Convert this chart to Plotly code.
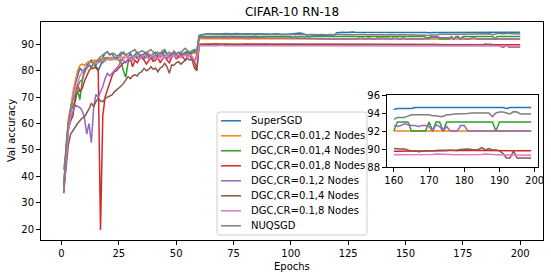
import plotly.graph_objects as go

# ---------------- data ----------------
epochs = list(range(1, 201))

names = ["SuperSGD", "DGC,CR=0.01,2 Nodes", "DGC,CR=0.01,4 Nodes", "DGC,CR=0.01,8 Nodes",
         "DGC,CR=0.1,2 Nodes", "DGC,CR=0.1,4 Nodes", "DGC,CR=0.1,8 Nodes", "NUQSGD"]
colors = ["#1f77b4", "#ff7f0e", "#2ca02c", "#d62728", "#9467bd", "#8c564b", "#e377c2", "#7f7f7f"]

super_sgd = [
    36, 52, 61, 66, 71, 75, 78, 81, 80, 79, 82, 83, 84, 83, 81, 80, 82, 85, 86.6, 87.2,
    86, 86.5, 85, 84.5, 85.5, 86, 87, 86, 85, 86.5, 85, 86, 87, 86, 85.5, 86.5, 87, 86, 85, 86.5,
    87, 86, 85.5, 86, 87.5, 86, 85, 86.5, 87, 86, 86.5, 87, 85.5, 86, 87, 86.5, 87.5, 88, 87, 93.4,
    93.6, 93.8, 93.9, 94.0, 93.9, 94.0, 94.1, 94.0, 93.9, 94.0, 94.0, 94.1, 94.0, 93.9, 94.0, 94.1, 94.0, 94.0, 93.9, 94.0,
    94.0, 94.1, 94.0, 93.9, 93.9, 94.0, 94.0, 93.9, 94.0, 93.9, 93.8, 93.9, 93.9, 94.0, 93.9, 93.8, 93.9, 93.8, 93.8, 93.9,
    94.0, 94.2, 94.4, 94.3, 94.1, 93.7, 93.5, 93.7, 93.5, 93.6, 93.4, 93.5, 93.4, 93.5, 93.4, 93.5, 93.5, 93.4, 93.5, 94.4,
    94.5, 94.6, 94.6, 94.5, 94.6, 94.6, 94.7, 94.6, 94.6, 94.6, 94.5, 94.6, 94.6, 94.6, 94.7, 94.6, 94.6, 94.6, 94.5, 94.6,
    94.6, 94.6, 94.6, 94.7, 94.6, 94.6, 94.6, 94.6, 94.5, 94.6, 94.6, 94.6, 94.6, 94.7, 94.6, 94.6, 94.6, 94.5, 94.5, 94.4,
    94.5, 94.5, 94.5, 94.5, 94.5, 94.6, 94.6, 94.6, 94.6, 94.6, 94.6, 94.6, 94.6, 94.6, 94.6, 94.6, 94.6, 94.6, 94.6, 94.6,
    94.6, 94.6, 94.6, 94.6, 94.6, 94.6, 94.6, 94.6, 94.6, 94.6, 94.6, 94.5, 94.6, 94.6, 94.6, 94.6, 94.6, 94.6, 94.6, 94.6,
]

dgc_001_2 = [
    35, 48, 62, 66, 72, 76, 80, 82, 82.5, 82, 83, 83.5, 83, 84, 84, 83.5, 84.5, 84, 85, 84.5,
    85, 84, 84.5, 85, 85.5, 84, 85, 86, 85, 84.5, 85.5, 86, 85, 84.5, 86, 85, 85.5, 86.5, 85, 84.5,
    85.5, 86, 85, 86.5, 85, 84.5, 86, 85.5, 86, 85, 86.5, 85.5, 86, 87, 86, 85.5, 86.5, 87, 86, 92.3,
    92.1, 92.0, 92.1, 92.2, 92.1, 92.0, 92.1, 92.2, 92.1, 92.0, 92.1, 92.1, 92.0, 92.1, 92.2, 92.1, 92.0, 92.1, 92.1, 92.0,
    92.1, 92.0, 92.1, 92.1, 92.0, 92.1, 92.2, 92.1, 92.0, 92.1, 92.0, 92.1, 92.1, 92.0, 92.1, 92.0, 92.1, 92.0, 92.0, 92.1,
    92.0, 92.1, 92.0, 92.0, 92.1, 92.0, 92.0, 92.1, 92.0, 92.0, 92.0, 92.1, 92.0, 92.0, 92.0, 92.0, 92.1, 92.0, 92.0, 92.0,
    92.0, 92.0, 92.0, 92.0, 92.0, 92.0, 92.0, 92.0, 92.0, 92.9, 92.9, 92.0, 92.0, 92.9, 92.0, 92.0, 92.0, 92.9, 92.0, 92.9,
    92.0, 92.9, 92.0, 92.0, 92.9, 92.9, 92.0, 92.0, 92.9, 92.0, 92.0, 92.0, 92.0, 92.0, 92.0, 92.0, 92.0, 92.0, 92.0, 92.0,
    92.0, 92.0, 92.0, 92.0, 92.0, 92.0, 92.0, 92.0, 92.0, 92.0, 92.0, 92.0, 92.0, 92.0, 92.0, 92.0, 92.0, 92.0, 92.0, 92.0,
    92.0, 92.0, 92.0, 92.0, 92.0, 92.0, 92.0, 92.0, 92.0, 92.0, 92.0, 92.0, 92.0, 92.0, 92.0, 92.0, 92.0, 92.0, 92.0, 92.0,
]

dgc_001_4 = [
    36, 50, 58, 64, 67, 68.3, 72.7, 69, 75.9, 79.7, 81, 82, 81, 83, 82, 83.5, 84, 83, 84.5, 85,
    84, 85, 84.5, 85, 84, 83, 80, 77.5, 83, 84.5, 85, 86, 85, 85.5, 86, 85, 86.5, 85, 86, 85.5,
    86, 85, 86.5, 87, 85.5, 86, 85, 86.5, 87, 86, 85.5, 87, 86, 86.5, 87.5, 86, 87, 88, 87, 92.8,
    93.0, 93.1, 93.0, 92.9, 93.0, 93.1, 93.0, 93.0, 92.9, 93.0, 93.1, 93.0, 93.0, 93.1, 93.0, 92.9, 93.0, 93.0, 93.1, 93.0,
    93.0, 92.9, 93.0, 93.1, 93.0, 93.0, 92.9, 93.0, 93.0, 93.1, 93.0, 93.0, 92.9, 93.0, 93.0, 93.1, 93.0, 92.9, 93.0, 93.0,
    92.6, 93.0, 92.6, 93.0, 93.0, 92.6, 93.0, 92.7, 93.0, 93.0, 93.0, 93.0, 93.0, 93.0, 93.0, 93.0, 93.0, 93.0, 93.0, 93.0,
    93.0, 93.0, 93.0, 93.0, 93.0, 93.0, 93.0, 93.0, 93.0, 93.0, 93.0, 93.0, 93.0, 93.0, 93.0, 93.0, 93.0, 93.0, 93.0, 93.0,
    93.0, 93.0, 93.0, 93.0, 93.0, 93.0, 93.0, 93.0, 93.0, 93.0, 93.0, 93.0, 93.0, 93.0, 93.0, 93.0, 93.0, 93.0, 92.5, 92.0,
    93.0, 93.0, 93.0, 93.0, 92.0, 92.0, 92.0, 92.0, 92.0, 93.0, 92.0, 93.0, 93.0, 92.0, 93.0, 93.0, 93.0, 93.0, 93.0, 93.0,
    93.0, 93.0, 93.0, 93.0, 93.0, 93.0, 93.0, 93.0, 92.0, 93.0, 93.0, 93.0, 93.0, 93.0, 93.0, 93.0, 93.0, 93.0, 93.0, 93.0,
]

dgc_001_8 = [
    33.6, 45, 58, 61, 63, 70, 75, 72, 73.3, 76, 78, 80, 81, 80.9, 81.5, 80.5, 19.6, 63, 70, 73,
    76, 78, 79.6, 80, 81, 82, 83, 83.4, 84, 84.5, 81.5, 84, 83, 84.5, 85, 84, 82.5, 84, 85, 83.5,
    84, 85, 83, 84.5, 85.5, 84, 83, 85, 86, 84.5, 85, 86, 85, 84, 85.5, 86, 84, 81, 80, 89.9,
    90.0, 89.9, 90.0, 90.0, 89.9, 90.0, 90.1, 90.0, 89.9, 90.0, 90.0, 89.9, 90.0, 90.0, 89.9, 90.0, 89.9, 90.0, 90.0, 89.9,
    90.0, 89.9, 89.9, 90.0, 89.9, 89.9, 90.0, 89.9, 89.9, 89.8, 89.9, 89.9, 89.8, 89.9, 89.9, 89.8, 89.9, 89.8, 89.8, 89.9,
    89.8, 89.9, 89.8, 89.8, 89.9, 89.8, 89.8, 89.8, 89.9, 89.8, 89.8, 89.8, 89.9, 89.8, 89.8, 89.8, 89.8, 89.9, 89.8, 89.8,
    89.8, 89.8, 89.9, 89.8, 89.8, 89.8, 89.8, 89.9, 89.8, 89.8, 89.8, 89.8, 89.8, 89.9, 89.8, 89.8, 89.8, 89.8, 89.8, 89.9,
    89.8, 89.8, 89.8, 89.8, 89.9, 89.8, 89.8, 89.8, 89.8, 89.8, 89.9, 89.8, 89.8, 89.8, 89.8, 89.8, 89.8, 89.8, 89.8, 89.75,
    89.75, 89.75, 89.75, 89.75, 89.75, 89.8, 89.8, 89.75, 89.8, 89.8, 89.8, 89.8, 89.8, 89.8, 89.8, 89.85, 89.8, 89.8, 89.85, 89.85,
    89.85, 89.85, 89.8, 89.8, 89.85, 89.85, 89.8, 89.8, 89.85, 89.85, 89.85, 89.8, 89.8, 89.8, 89.85, 89.8, 89.85, 89.8, 89.8, 89.8,
]

dgc_01_2 = [
    42.4, 50, 58, 62, 65, 67, 66.5, 66, 65, 62, 56, 60, 52.7, 66, 71, 70, 72, 74, 77, 79,
    78, 79, 80, 81, 82, 84, 84, 83, 84.5, 85, 84, 85.5, 84.5, 85, 86, 84.5, 85, 86, 85.5, 84.5,
    85, 86, 85, 86.5, 85.5, 84.5, 86, 85, 86.5, 85.5, 86, 85, 86.5, 87, 85.5, 86, 84, 83.5, 86, 92.5,
    92.6, 92.7, 92.6, 92.5, 92.6, 92.7, 92.6, 92.6, 92.5, 92.6, 92.7, 92.6, 92.5, 92.6, 92.6, 92.7, 92.6, 92.5, 92.6, 92.6,
    92.6, 92.5, 92.6, 92.6, 92.5, 92.6, 92.5, 92.6, 92.5, 92.5, 92.6, 92.5, 92.5, 92.4, 92.5, 92.5, 92.4, 92.5, 92.4, 92.4,
    92.4, 92.3, 92.4, 92.3, 92.3, 92.2, 92.3, 92.2, 92.2, 92.1, 92.2, 92.1, 92.1, 92.0, 92.1, 92.0, 92.0, 92.0, 92.0, 92.0,
    92.0, 92.0, 92.0, 92.0, 92.0, 92.0, 92.0, 92.0, 92.0, 92.0, 92.0, 92.0, 92.0, 92.0, 92.0, 92.0, 92.0, 92.0, 92.0, 92.0,
    92.0, 92.0, 92.0, 92.0, 92.0, 92.0, 92.0, 92.0, 92.0, 92.0, 92.0, 92.0, 92.0, 92.0, 92.0, 92.0, 92.0, 92.0, 92.3, 92.6,
    92.5, 92.6, 92.8, 92.7, 92.6, 92.6, 92.5, 92.6, 92.6, 92.5, 92.0, 92.7, 92.5, 92.0, 92.5, 92.0, 92.0, 92.0, 92.6, 92.6,
    92.0, 92.0, 92.0, 92.0, 92.0, 92.0, 92.0, 92.0, 92.0, 92.0, 92.0, 92.0, 92.0, 92.0, 92.0, 92.0, 92.0, 92.0, 92.0, 92.0,
]

dgc_01_4 = [
    35, 45, 52, 56, 57.5, 58.5, 60, 61, 62, 62.5, 64, 65.5, 67.7, 66.4, 68.3, 69.5, 68.5, 68.3, 69.5, 70,
    70.2, 70.8, 72, 72.7, 73.5, 74.2, 75.2, 76.5, 77.7, 77, 78, 78.4, 78, 79.2, 79.6, 80.9, 80, 80.5, 81.5, 80.5,
    81, 79.6, 81, 81.5, 82.8, 81.5, 79, 82.2, 82, 83, 83.4, 82.5, 83.4, 84, 84.7, 84, 84.5, 83.4, 80.3, 89.8,
    90.0, 89.9, 90.1, 90.0, 89.9, 90.0, 90.1, 90.0, 89.9, 90.0, 90.1, 90.0, 90.0, 89.9, 90.0, 90.1, 90.0, 89.9, 90.0, 90.0,
    90.1, 90.0, 89.9, 90.0, 90.0, 89.9, 90.0, 90.1, 90.0, 89.9, 90.0, 89.9, 90.0, 90.0, 89.9, 89.9, 90.0, 89.9, 89.9, 89.9,
    89.9, 89.8, 89.9, 89.9, 89.8, 89.9, 89.9, 89.8, 89.9, 89.9, 89.9, 89.8, 89.9, 89.9, 89.9, 89.8, 89.9, 89.9, 89.9, 89.9,
    89.9, 89.9, 89.8, 89.9, 89.9, 89.9, 89.9, 89.8, 89.9, 89.9, 89.9, 89.9, 89.9, 89.8, 89.9, 89.9, 89.9, 89.9, 89.9, 89.9,
    89.9, 89.9, 89.9, 89.8, 89.9, 89.9, 89.9, 89.9, 89.9, 90.0, 89.9, 89.9, 89.9, 90.0, 89.9, 90.0, 90.0, 90.0, 90.0, 90.05,
    90.0, 90.0, 90.0, 89.9, 89.75, 89.8, 89.7, 89.75, 89.8, 89.8, 89.8, 89.85, 89.85, 89.85, 89.85, 89.9, 89.9, 89.9, 89.95, 90.0,
    90.0, 89.95, 89.9, 89.95, 90.15, 89.9, 90.05, 89.9, 89.9, 89.8, 89.5, 89.0, 89.0, 89.8, 89.0, 89.0, 89.0, 89.0, 89.0, 89.0,
]

dgc_01_8 = [
    35, 47, 57, 64, 71, 73, 76, 78, 79.5, 81, 81.5, 82, 81.5, 82.5, 82.8, 83, 83.5, 84, 83.5, 84.5,
    84, 85, 84.5, 84, 85, 85.5, 84.5, 85, 85.5, 84, 85, 85.5, 86, 84.5, 85, 86, 85.5, 84.5, 85.5, 86,
    85, 84.5, 86, 85.5, 85, 86, 84.5, 85.5, 86, 85, 86.5, 85, 85.5, 86, 85, 86, 85.5, 84, 84.5, 89.5,
    89.5, 89.6, 89.5, 89.5, 89.6, 89.5, 89.4, 89.5, 89.5, 89.6, 89.5, 89.5, 89.4, 89.5, 89.5, 89.6, 89.5, 89.4, 89.5, 89.5,
    89.4, 89.5, 89.5, 89.4, 89.5, 89.4, 89.5, 89.5, 89.4, 89.5, 89.4, 89.4, 89.5, 89.4, 89.4, 89.5, 89.4, 89.4, 89.4, 89.5,
    89.4, 89.4, 89.5, 89.4, 89.4, 89.4, 89.5, 89.4, 89.4, 89.4, 89.4, 89.5, 89.4, 89.4, 89.4, 89.4, 89.4, 89.5, 89.4, 89.4,
    89.4, 89.4, 89.4, 89.5, 89.4, 89.4, 89.4, 89.4, 89.4, 89.5, 89.4, 89.4, 89.4, 89.4, 89.4, 89.4, 89.5, 89.4, 89.4, 89.4,
    89.4, 89.4, 89.4, 89.4, 89.5, 89.4, 89.4, 89.4, 89.4, 89.4, 89.4, 89.4, 89.5, 89.4, 89.4, 89.4, 89.4, 89.4, 89.4, 89.35,
    89.35, 89.35, 89.35, 89.35, 89.35, 89.4, 89.4, 89.4, 89.35, 89.35, 89.4, 89.45, 89.45, 89.4, 89.45, 89.4, 89.35, 89.35, 89.35, 89.35,
    89.35, 89.35, 89.35, 89.35, 89.4, 89.45, 89.4, 89.35, 89.35, 89.35, 89.35, 89.35, 89.35, 89.35, 89.35, 89.3, 89.3, 89.3, 89.3, 89.3,
]

nuqsgd = [
    35, 50, 60, 66, 69, 71.5, 74, 75.9, 76.5, 80.3, 81, 82.2, 81.5, 83, 83.4, 84.5, 85.3, 86, 86.6, 87.2,
    86, 86.6, 86.5, 85.5, 86, 87, 86.5, 86, 86.5, 87, 87.5, 88, 86.5, 87, 87.5, 87.2, 86.5, 87.5, 88, 87,
    86.5, 87, 86.5, 87.5, 88, 86.5, 87, 86, 87.5, 86.5, 87, 86.5, 87.8, 88.5, 87.5, 87, 87.5, 87, 87.8, 93.0,
    93.5, 93.7, 93.8, 93.8, 93.9, 93.8, 93.9, 93.8, 93.7, 93.8, 93.9, 93.8, 93.8, 93.9, 93.8, 93.7, 93.8, 93.9, 93.8, 93.8,
    93.7, 93.8, 93.9, 93.8, 93.7, 93.8, 93.8, 93.7, 93.8, 93.7, 93.8, 93.7, 93.7, 93.8, 93.7, 93.6, 93.7, 93.8, 93.7, 93.7,
    93.8, 93.7, 93.6, 93.7, 93.8, 93.6, 93.5, 93.6, 93.7, 93.6, 93.5, 93.6, 93.7, 93.6, 93.5, 93.6, 93.7, 93.6, 93.6, 93.7,
    93.8, 93.7, 93.6, 93.7, 93.8, 93.7, 93.6, 93.7, 93.8, 93.7, 93.7, 93.8, 93.6, 93.7, 93.8, 93.7, 93.6, 93.7, 93.8, 93.7,
    93.6, 93.7, 93.8, 93.7, 93.6, 93.5, 93.6, 93.7, 93.6, 93.5, 93.6, 93.5, 93.6, 93.5, 93.4, 93.5, 93.4, 93.5, 93.4, 93.3,
    93.5, 93.5, 93.5, 93.65, 93.8, 93.8, 93.8, 93.8, 93.8, 93.8, 93.7, 93.7, 93.6, 93.6, 93.8, 93.8, 93.9, 93.9, 93.9, 93.9,
    93.95, 94.0, 94.0, 94.0, 94.05, 94.05, 94.0, 93.6, 94.0, 94.1, 94.1, 94.0, 93.9, 94.15, 94.1, 93.9, 93.9, 93.9, 93.9, 93.9,
]

series = [super_sgd, dgc_001_2, dgc_001_4, dgc_001_8, dgc_01_2, dgc_01_4, dgc_01_8, nuqsgd]
for s in series:
    assert len(s) == len(epochs), len(s)

inset_first, inset_last = 160, 199          # epochs shown in the zoomed inset
main_yticks = [20, 30, 40, 50, 60, 70, 80, 90]
main_xticks = [0, 25, 50, 75, 100, 125, 150, 175, 200]
inset_yticks = [88, 90, 92, 94, 96]
inset_xticks = [160, 170, 180, 190, 200]

# ---------------- figure ----------------
W, H = 551, 278
ML, MR, MT, MB = 41, 8, 22, 38
PW, PH = W - ML - MR, H - MT - MB
FONT = "DejaVu Sans"


def px(xp):   # pixel x -> paper x
    return (xp - ML) / PW


def py(yp):   # pixel y -> paper y
    return (H - MB - yp) / PH


fig = go.Figure()
for name, color, vals in zip(names, colors, series):
    fig.add_trace(go.Scatter(x=epochs, y=vals, mode="lines", name=name,
                             line=dict(color=color, width=1.5), showlegend=False,
                             xaxis="x", yaxis="y"))

i0, i1 = epochs.index(inset_first), epochs.index(inset_last) + 1
for name, color, vals in zip(names, colors, series):
    fig.add_trace(go.Scatter(x=epochs[i0:i1], y=vals[i0:i1], mode="lines", name=name,
                             line=dict(color=color, width=1.5), showlegend=False,
                             xaxis="x2", yaxis="y2"))

axis_common = dict(showline=True, mirror=True, linecolor="black", linewidth=1,
                   ticks="outside", ticklen=4, tickwidth=1, tickcolor="black",
                   showgrid=False, zeroline=False, automargin=False,
                   tickfont=dict(family=FONT, size=10, color="black"))

xmin, xmax = min(epochs), max(epochs)
xpad = 0.05 * (xmax - xmin)
allv = [v for s in series for v in s]
ymin, ymax = min(allv), max(allv)
ypad = 0.05 * (ymax - ymin)
ix_pad = 0.05 * (inset_last - inset_first)

fig.update_layout(
    width=W, height=H,
    margin=dict(l=ML, r=MR, t=MT, b=MB, pad=0),
    paper_bgcolor="white", plot_bgcolor="white",
    showlegend=False,
    title=dict(text="CIFAR-10 RN-18", x=0.5, xref="paper", xanchor="center",
               y=1 - 12 / H, yref="container", yanchor="middle",
               font=dict(family=FONT, size=12, color="black")),
    xaxis=dict(domain=[0, 1], range=[xmin - xpad, xmax + xpad], tickvals=main_xticks,
               **axis_common),
    yaxis=dict(domain=[0, 1], range=[ymin - ypad, ymax + ypad], tickvals=main_yticks,
               **axis_common),
    xaxis2=dict(domain=[px(387), px(538)], anchor="y2",
                range=[inset_first - ix_pad, inset_last + ix_pad], tickvals=inset_xticks,
                **axis_common),
    yaxis2=dict(domain=[py(167), py(95)], anchor="x2", range=[88, 96], tickvals=inset_yticks,
                **axis_common),
)

shapes = [dict(type="rect", xref="paper", yref="paper", x0=px(387), x1=px(538), y0=py(167), y1=py(95),
               fillcolor="white", line=dict(width=0), layer="below")]

# legend box (matplotlib style) drawn with a rounded path
lx0, lx1, ly0, ly1, r = 217, 367, 112, 235, 3
path = (f"M {px(lx0 + r)},{py(ly0)} L {px(lx1 - r)},{py(ly0)} Q {px(lx1)},{py(ly0)} {px(lx1)},{py(ly0 + r)} "
        f"L {px(lx1)},{py(ly1 - r)} Q {px(lx1)},{py(ly1)} {px(lx1 - r)},{py(ly1)} "
        f"L {px(lx0 + r)},{py(ly1)} Q {px(lx0)},{py(ly1)} {px(lx0)},{py(ly1 - r)} "
        f"L {px(lx0)},{py(ly0 + r)} Q {px(lx0)},{py(ly0)} {px(lx0 + r)},{py(ly0)} Z")
shapes.append(dict(type="path", xref="paper", yref="paper", path=path,
                   fillcolor="rgba(255,255,255,0.8)", line=dict(color="#cccccc", width=1), layer="above"))

annotations = [
    dict(text="Epochs", xref="paper", yref="paper", x=0.5, y=py(266.5), xanchor="center", yanchor="middle",
         showarrow=False, font=dict(family=FONT, size=10, color="black")),
    dict(text="Val accuracy", xref="paper", yref="paper", x=px(11), y=0.5, xanchor="center", yanchor="middle",
         textangle=-90, showarrow=False, font=dict(family=FONT, size=10, color="black")),
]
for k, (name, color) in enumerate(zip(names, colors)):
    yc = 120.8 + 15.0 * k
    shapes.append(dict(type="line", xref="paper", yref="paper", x0=px(221), x1=px(241),
                       y0=py(yc), y1=py(yc), line=dict(color=color, width=1.5), layer="above"))
    annotations.append(dict(text=name, xref="paper", yref="paper", x=px(249), y=py(yc),
                            xanchor="left", yanchor="middle", showarrow=False,
                            font=dict(family=FONT, size=10, color="black")))

fig.update_layout(shapes=shapes, annotations=annotations)
fig.write_html("out.html", config={"displayModeBar": False},
               post_script="document.body.style.margin='0';document.body.style.padding='0';")
